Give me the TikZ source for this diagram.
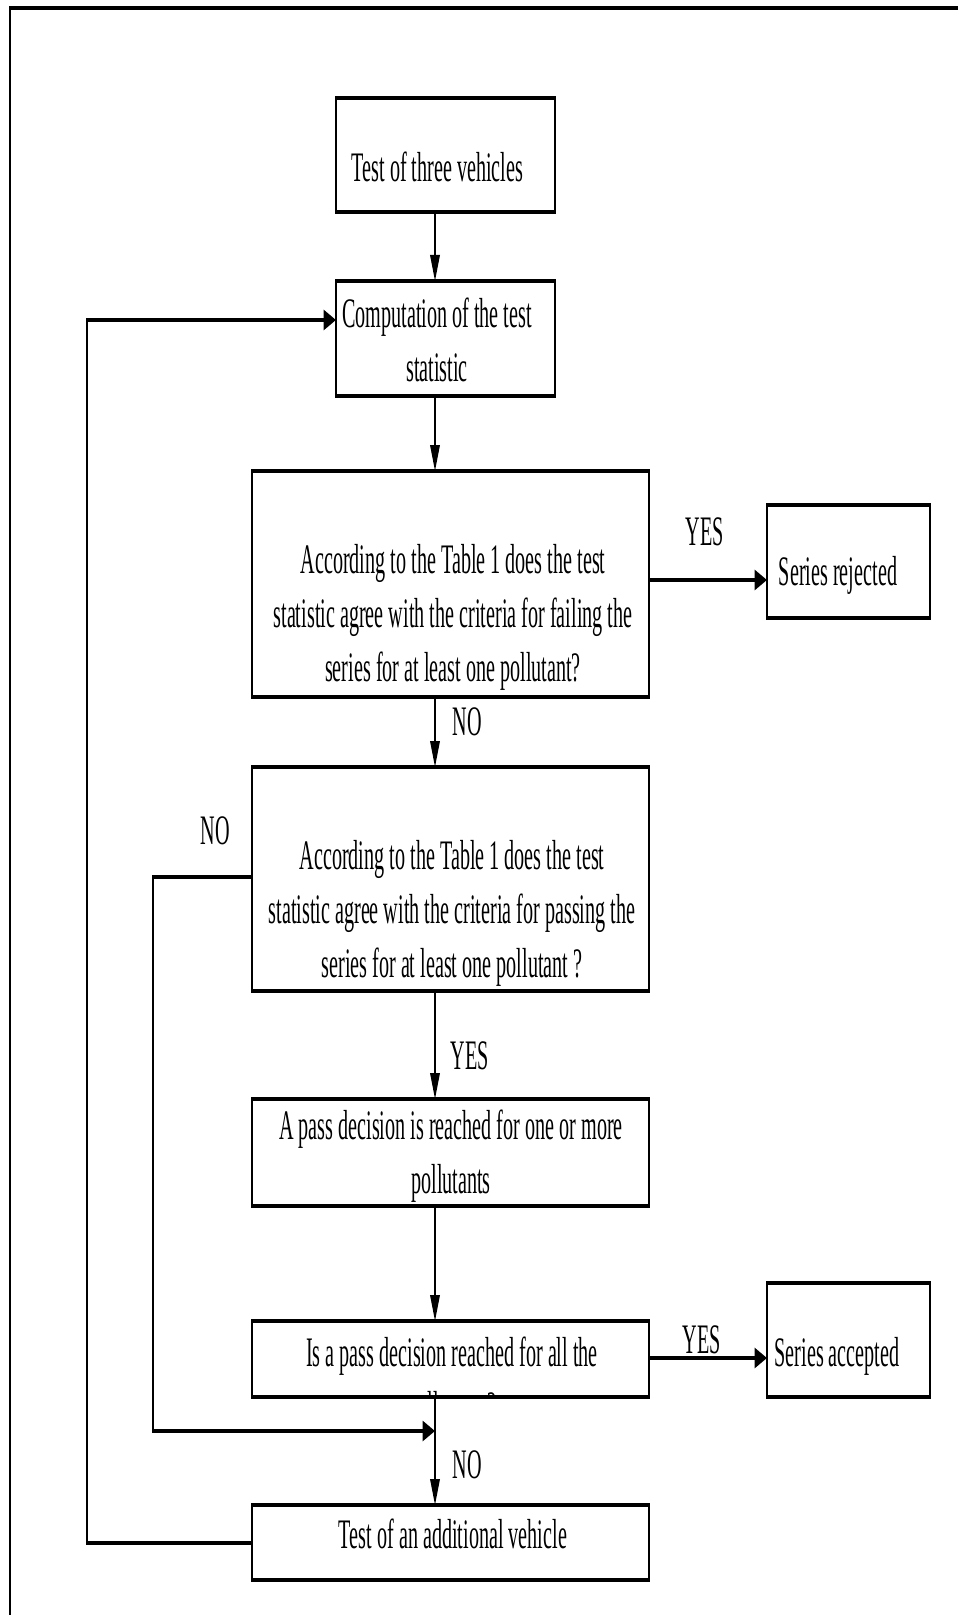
\documentclass[tikz,border=0pt]{standalone}
\usepackage{fontspec}
\setmainfont{Liberation Serif}
\usetikzlibrary{arrows.meta}
% unit lengths inside the horizontally compressed canvas
\def\pxw{1.04167pt}
\def\pxh{0.5pt}
\begin{document}
\begin{tikzpicture}[x=0.5pt,y=-0.5pt]
\useasboundingbox[fill=white] (0,0) rectangle (958,1615);
\begin{scope}[transform canvas={xscale=0.48}, x=1.04167pt, y=-0.5pt,
  box/.style={draw, line width=1.8pt, inner sep=0pt, outer sep=0pt},
  txt/.style={font=\fontsize{21pt}{27pt}\selectfont, align=center, inner sep=0pt,
    execute at begin node=\strut, execute at end node=\strut},
  conn/.style={line width=1.6pt},
  arr/.style={conn, -{Triangle[length=13pt,width=10pt]}},
  frame/.style={line width=1.6pt}]

% page frame (top and left edge)
\draw[frame] (958,8) -- (10,8) -- (10,1615);

% boxes
\node[box, minimum width=219*\pxw, minimum height=114*\pxh] (b1) at (445.5,155) {};
\node[box, minimum width=219*\pxw, minimum height=115*\pxh] (b2) at (445.5,338.5) {};
\node[box, minimum width=397*\pxw, minimum height=226*\pxh] (b3) at (450.5,584) {};
\node[box, minimum width=163*\pxw, minimum height=113*\pxh] (rej) at (848.5,561.5) {};
\node[box, minimum width=397*\pxw, minimum height=224*\pxh] (b4) at (450.5,879) {};
\node[box, minimum width=397*\pxw, minimum height=107*\pxh] (b5) at (450.5,1152.5) {};
\node[box, minimum width=397*\pxw, minimum height=76*\pxh] (b6) at (450.5,1359) {};
\node[box, minimum width=163*\pxw, minimum height=114*\pxh] (acc) at (848.5,1340) {};
\node[box, minimum width=397*\pxw, minimum height=75*\pxh] (b7) at (450.5,1542.5) {};

% box texts
\node[txt] (t1) at (437.5,171) {Test of three vehicles};
\node[txt] (t2) at (437,348) {Computation of the test\\statistic};
\node[txt] (t3) at (453,621) {According to the Table 1 does the test\\statistic agree with the criteria for failing the\\series for at least one pollutant?};
\node[txt] (trej) at (838,575) {Series rejected};
\node[txt] (t4) at (452,917) {According to the Table 1 does the test\\statistic agree with the criteria for passing the\\series for at least one pollutant ?};
\node[txt] (t5) at (451,1160) {A pass decision is reached for one or more\\pollutants};
\begin{scope}
  \clip (b6.north west) rectangle (b6.south east);
  \node[txt] (t6) at (452,1387) {Is a pass decision reached for all the\\pollutants?};
\end{scope}
\node[txt] (tacc) at (837,1356) {Series accepted};
\node[txt] (t7) at (453,1538) {Test of an additional vehicle};

% routing points
\coordinate (ax) at (435,0);
\coordinate (yrej) at (0,580);
\coordinate (yacc) at (0,1358);
\coordinate (nl1) at (153,877);
\coordinate (nl2) at (153,1431);
\coordinate (bl1) at (87,1543);
\coordinate (bl2) at (87,320);

% connectors
\draw[arr] (ax |- b1.south) -- (ax |- b2.north);
\draw[arr] (ax |- b2.south) -- (ax |- b3.north);
\draw[arr] (ax |- b3.south) -- (ax |- b4.north);
\draw[arr] (ax |- b4.south) -- (ax |- b5.north);
\draw[arr] (ax |- b5.south) -- (ax |- b6.north);
\draw[arr] (ax |- b6.south) -- (ax |- b7.north);
\draw[arr] (b3.east |- yrej) -- (rej.west |- yrej);
\draw[arr] (b6.east |- yacc) -- (acc.west |- yacc);
\draw[arr] (b4.west |- nl1) -- (nl1) -- (nl2) -- (ax |- nl2);
\draw[arr] (b7.west |- bl1) -- (bl1) -- (bl2) -- (b2.west |- bl2);

% connector labels
\node[txt] (yes1) at (705,535) {YES};
\node[txt] (no1) at (467,725) {NO};
\node[txt] (no2) at (215,834) {NO};
\node[txt] (yes2) at (470,1059) {YES};
\node[txt] (yes3) at (702,1343) {YES};
\node[txt] (no3) at (467,1468) {NO};
\end{scope}
\end{tikzpicture}
\end{document}
